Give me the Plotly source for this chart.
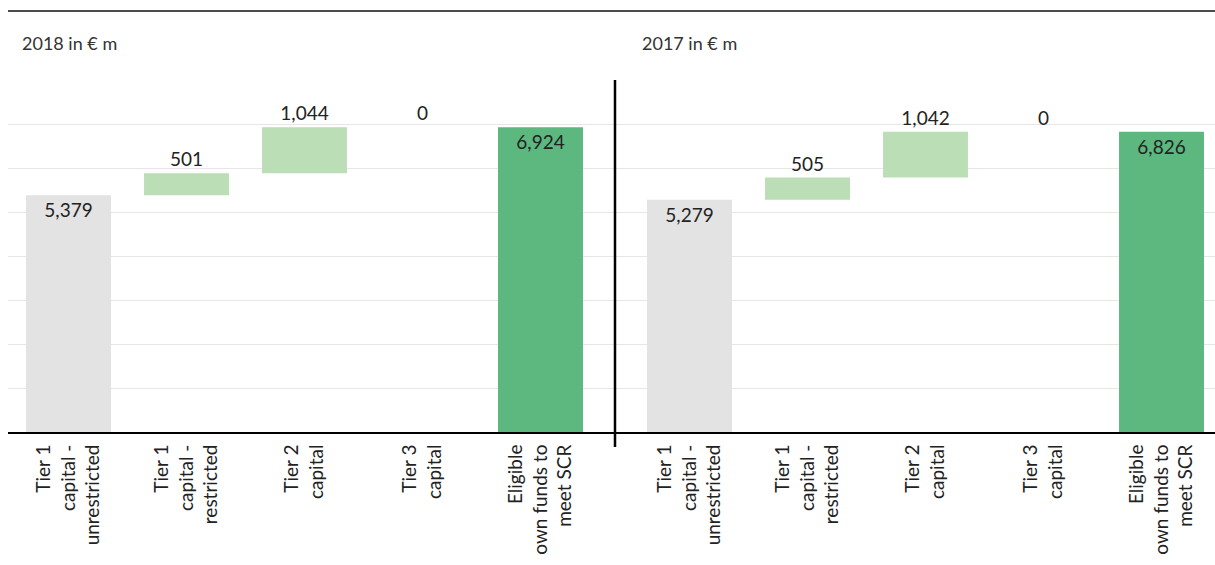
import plotly.graph_objects as go

# Own funds composition, in € m
categories = [
    "Tier 1<br>capital -<br>unrestricted",
    "Tier 1<br>capital -<br>restricted",
    "Tier 2<br>capital",
    "Tier 3<br>capital",
    "Eligible<br>own funds to<br>meet SCR",
]
values_2018 = [5379, 501, 1044, 0, 6924]
values_2017 = [5279, 505, 1042, 0, 6826]
kinds = ["start", "step", "step", "step", "total"]
panel_titles = ["2018 in € m", "2017 in € m"]

GREY = "#e3e3e3"
LIGHT_GREEN = "#bcdeb7"
DARK_GREEN = "#5db87f"
TEXT = "#222222"
FONT = "Lato"

W, H = 1215, 565


def waterfall(values):
    bases, heights, colors, positions = [], [], [], []
    running = 0
    for v, k in zip(values, kinds):
        if k == "start":
            bases.append(0); heights.append(v); colors.append(GREY)
            positions.append("inside"); running = v
        elif k == "step":
            bases.append(running); heights.append(v); colors.append(LIGHT_GREEN)
            positions.append("outside"); running += v
        else:
            bases.append(0); heights.append(v); colors.append(DARK_GREEN)
            positions.append("inside")
    return bases, heights, colors, positions


fig = go.Figure()
for i, vals in enumerate([values_2018, values_2017]):
    bases, heights, colors, positions = waterfall(vals)
    suffix = "" if i == 0 else "2"
    fig.add_trace(go.Bar(
        x=categories, y=heights, base=bases,
        marker=dict(color=colors, line=dict(width=0)),
        width=0.72,
        text=[f"{v:,}" for v in vals],
        textposition=positions,
        insidetextanchor="end",
        textangle=0,
        textfont=dict(family=FONT, size=19, color=TEXT),
        insidetextfont=dict(family=FONT, size=19, color=TEXT),
        outsidetextfont=dict(family=FONT, size=19, color=TEXT),
        cliponaxis=False,
        xaxis="x" + suffix, yaxis="y" + suffix,
        showlegend=False, hoverinfo="skip",
    ))

y_dom = [(H - 432) / H, (H - 80) / H]
axis_common = dict(
    type="category", categoryorder="array", categoryarray=categories,
    tickangle=-90, ticks="", showgrid=False,
    showline=True, linecolor="black", linewidth=2,
    tickfont=dict(family=FONT, size=19, color=TEXT),
    ticklabelstandoff=3,
)
yaxis_common = dict(
    range=[0, 8000], dtick=1000, showticklabels=False, ticks="",
    showgrid=True, gridcolor="#e6e6e6", gridwidth=1,
    zeroline=False, showline=False, domain=y_dom,
)

fig.update_layout(
    width=W, height=H,
    margin=dict(l=0, r=0, t=0, b=0),
    paper_bgcolor="white", plot_bgcolor="white",
    bargap=0.28,
    font=dict(family=FONT, color=TEXT),
    xaxis=dict(axis_common, domain=[8 / W, 614 / W],
               range=[(8 - 68.5) / 118, (614 - 68.5) / 118], anchor="y"),
    yaxis=dict(yaxis_common, anchor="x"),
    xaxis2=dict(axis_common, domain=[614 / W, 1.0],
                range=[(614 - 689.5) / 118, (1215 - 689.5) / 118], anchor="y2"),
    yaxis2=dict(yaxis_common, anchor="x2"),
)

# Rule across the top and divider between the two years
fig.add_shape(type="line", xref="paper", yref="paper",
              x0=8 / W, x1=1.0, y0=(H - 11) / H, y1=(H - 11) / H,
              line=dict(color="#111111", width=1.5))
fig.add_shape(type="line", xref="paper", yref="paper",
              x0=615 / W, x1=615 / W, y0=(H - 447) / H, y1=(H - 80) / H,
              line=dict(color="black", width=2.5))

for title, x_px in zip(panel_titles, [20, 640]):
    fig.add_annotation(text=title, xref="paper", yref="paper",
                       x=x_px / W, y=(H - 43) / H, xanchor="left", yanchor="middle",
                       showarrow=False, font=dict(family=FONT, size=18, color="#333333"))

fig.write_html("out.html")
